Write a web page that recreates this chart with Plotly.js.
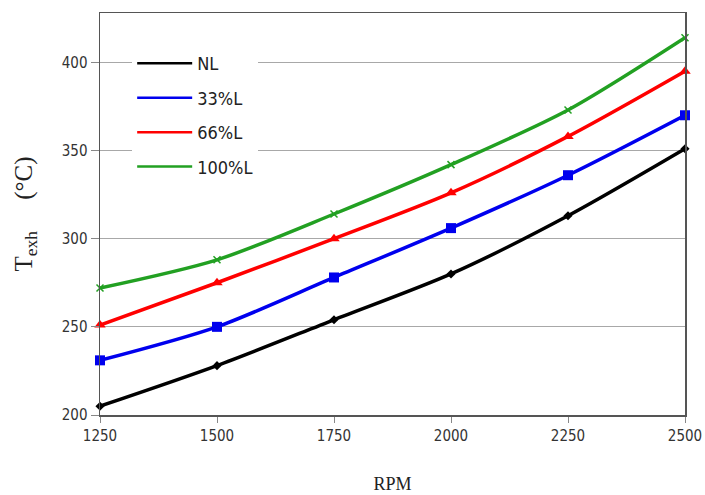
<!DOCTYPE html>
<html>
<head>
<meta charset="utf-8">
<script src="https://cdn.plot.ly/plotly-3.0.1.min.js"></script>
<style>body{margin:0;background:#fff}#chart{width:705px;height:495px}</style>
</head>
<body>
<div id="chart"></div>
<script>
const rpm = [1250, 1500, 1750, 2000, 2250, 2500];
const seriesNames = ["NL", "33%L", "66%L", "100%L"];
const nl = [205, 228, 254, 280, 313, 351];
const l33 = [231, 250, 278, 306, 336, 370];
const l66 = [251, 275, 300, 326, 358, 395];
const l100 = [272, 288, 314, 342, 373, 414];
const xTicks = [1250, 1500, 1750, 2000, 2250, 2500];
const yTicks = [200, 250, 300, 350, 400];

const colors = ["#000000", "#0000ee", "#ff0000", "#22a022"];
const symbols = ["diamond", "square", "triangle-up", "x-thin"];
const sizes = [7, 10, 10, 7];
const vals = [nl, l33, l66, l100];

const traces = vals.map((v, i) => ({
  x: rpm, y: v, name: seriesNames[i], type: "scatter", mode: "lines+markers",
  showlegend: false,
  line: {color: colors[i], width: 3.5, shape: "spline", smoothing: 0.8},
  marker: {symbol: symbols[i], size: sizes[i], color: colors[i], line: {color: colors[i], width: i === 3 ? 1.5 : 0}},
  cliponaxis: false
}));
const legendTraces = seriesNames.map((n, i) => ({
  x: [null], y: [null], name: n, type: "scatter", mode: "lines",
  legendgroup: "g" + i, showlegend: true,
  line: {color: colors[i], width: 2.5}
}));

const layout = {
  width: 705, height: 495,
  margin: {l: 100, r: 20, t: 13, b: 80},
  paper_bgcolor: "#fff", plot_bgcolor: "#fff",
  showlegend: true,
  legend: {x: 0.055, y: 0.92, xanchor: "left", yanchor: "top", bgcolor: "#fff",
    font: {family: "DejaVu Sans Condensed, sans-serif", size: 18, color: "#222"},
    tracegroupgap: 8, itemwidth: 55},
  xaxis: {range: [1250, 2500], tickvals: xTicks, ticks: "outside", ticklen: 6, tickcolor: "#888",
    showgrid: false, zeroline: false, showline: true, linecolor: "#555", linewidth: 1.5, mirror: true,
    tickfont: {family: "DejaVu Sans Condensed, sans-serif", size: 15, color: "#333"},
    title: {text: "RPM", font: {family: "Liberation Serif, serif", size: 18, color: "#222"}, standoff: 34}},
  yaxis: {range: [200, 428], tickvals: yTicks, ticks: "outside", ticklen: 8, tickcolor: "#888",
    showgrid: true, gridcolor: "#a8a8a8", gridwidth: 1, zeroline: false, showline: true, linecolor: "#555", linewidth: 1.5, mirror: true,
    tickfont: {family: "DejaVu Sans Condensed, sans-serif", size: 15, color: "#333"},
    title: {text: "T<sub>exh</sub>     (°C)", font: {family: "Liberation Serif, serif", size: 25, color: "#222"}, standoff: 22}}
};

Plotly.newPlot("chart", traces.concat(legendTraces), layout, {displayModeBar: false, staticPlot: true});
</script>
</body>
</html>
